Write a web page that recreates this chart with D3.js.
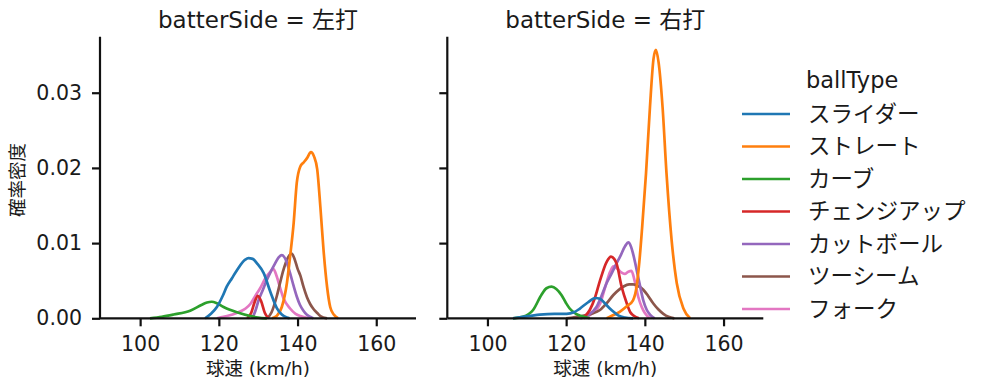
<!DOCTYPE html>
<html><head><meta charset="utf-8">
<script src="https://cdn.jsdelivr.net/npm/d3@7"></script>
<style>
body{margin:0;background:#fff;}
text{font-family:"DejaVu Sans","Noto Sans CJK JP",sans-serif;fill:#1a1a1a;}
</style></head>
<body><svg id="c" width="987" height="391"></svg>
<script>
// ---- data ----
const panels = ["左打", "右打"];
const ballTypes = ["スライダー","ストレート","カーブ","チェンジアップ","カットボール","ツーシーム","フォーク"];
const colors = ["#1f77b4","#ff7f0e","#2ca02c","#d62728","#9467bd","#8c564b","#e377c2"];
const xTicks = [100,120,140,160];
const yTicks = [0,0.01,0.02,0.03];
const yTickLabels = ["0.00","0.01","0.02","0.03"];

// [speed km/h, density]
const leftSlider = [[116.5,0],[118,0.0006],[119.5,0.0015],[121,0.0030],[122,0.0042],[123.3,0.0053],[124.6,0.0064],[126.7,0.0078],[127.5,0.0080],[128.6,0.0079],[129.7,0.0073],[131.4,0.0060],[133.1,0.0035],[134.7,0.0014],[136,0.0005],[137.3,0.0001],[138,0]];
const leftStraight = [[133.5,0],[134.7,0.0003],[136,0.0015],[137.3,0.0047],[138.1,0.0082],[139,0.0126],[139.8,0.0180],[140.7,0.0202],[141.5,0.0207],[142.4,0.0213],[143.4,0.0221],[144.2,0.0215],[145,0.0198],[145.8,0.0148],[146.6,0.0091],[147.5,0.0042],[148.3,0.0015],[149.2,0.0005],[150.3,0]];
const leftCurve = [[102.5,0],[105.5,0.0002],[108.5,0.0005],[112.7,0.0010],[115.7,0.0018],[117,0.0021],[118.2,0.0022],[119.5,0.0020],[121.2,0.0015],[124.6,0.0008],[128,0.0003],[130,0.0001],[132.2,0]];
const leftChange = [[127.2,0],[128.2,0.0007],[129,0.0020],[129.9,0.0030],[130.8,0.0022],[131.7,0.0007],[132.6,0]];
const leftCut = [[128.5,0],[129.3,0.0010],[130.1,0.0024],[131.2,0.0038],[132.2,0.0051],[133.2,0.0062],[134.3,0.0073],[135.2,0.0081],[136,0.0084],[137,0.0078],[138.1,0.0060],[139,0.0043],[139.8,0.0029],[140.6,0.0018],[141.5,0.0010],[142.3,0.0005],[143.2,0.0002],[144,0]];
const leftTwoSeam = [[132.3,0],[133.4,0.0008],[134.7,0.0029],[135.6,0.0048],[136.4,0.0064],[137.5,0.0080],[138.5,0.0086],[139.3,0.0078],[140,0.0066],[140.7,0.0057],[141.5,0.0042],[142.4,0.0028],[143.2,0.0019],[144.1,0.0012],[145,0.0007],[145.8,0.0003],[147.5,0]];
const leftFork = [[119.5,0],[121.2,0.0002],[123.5,0.0005],[125.4,0.0009],[126.8,0.0013],[128,0.0019],[129.3,0.0030],[130.5,0.0040],[131.8,0.0053],[133.1,0.0062],[133.8,0.0066],[134.7,0.0056],[135.6,0.0040],[136.4,0.0027],[138.1,0.0013],[139.5,0.0006],[140.7,0.0003],[142.8,0]];

const rightSlider = [[106.5,0],[109,0.0002],[113.3,0.0005],[117,0.0006],[120.1,0.0006],[122,0.0008],[123.5,0.0013],[125.5,0.0021],[127.4,0.0027],[128.6,0.0026],[130,0.0019],[131.1,0.0013],[132.2,0.0008],[133.2,0.0004],[135,0.0001],[137,0]];
const rightStraight = [[130.3,0],[131.5,0.0003],[133.7,0.0009],[135.4,0.0016],[137,0.0024],[137.9,0.0042],[138.6,0.0075],[139.3,0.0120],[140.3,0.0193],[141.3,0.0281],[142.2,0.0345],[142.8,0.0357],[143.5,0.0340],[144.5,0.0281],[145.5,0.0193],[146.8,0.0104],[148.1,0.0047],[149.8,0.0013],[151.5,0]];
const rightCurve = [[106.5,0],[109,0.0002],[111.6,0.0011],[113.7,0.0031],[115,0.0040],[116.3,0.0042],[117.5,0.0039],[118.8,0.0031],[120,0.0020],[120.9,0.0013],[122.5,0.0006],[123.9,0.0003],[126,0]];
const rightChange = [[123.8,0],[125,0.0004],[126,0.0011],[127.3,0.0027],[128.6,0.0050],[130.3,0.0075],[131.4,0.0082],[132.2,0.0079],[132.8,0.0073],[134.1,0.0042],[135.4,0.0020],[136.3,0.0008],[137,0.0004],[138.5,0]];
const rightCut = [[123.5,0],[125.5,0.0004],[127.7,0.0015],[129,0.0030],[130.3,0.0047],[131.6,0.0060],[132.8,0.0073],[133.7,0.0082],[135,0.0096],[135.8,0.0101],[136.5,0.0095],[137,0.0086],[138.3,0.0055],[139.6,0.0024],[140.5,0.0011],[141.3,0.0005],[142.5,0]];
const rightTwoSeam = [[120,0],[124,0.0003],[126.5,0.0006],[128.6,0.0011],[130.3,0.0020],[132,0.0031],[134.5,0.0042],[136,0.0045],[137,0.0045],[138.3,0.0043],[139.6,0.0038],[140.8,0.0030],[142.1,0.0020],[143.4,0.0012],[144.7,0.0006],[146,0.0002],[147.5,0]];
const rightFork = [[124.5,0],[126.5,0.0006],[128.6,0.0019],[130,0.0043],[131.2,0.0062],[132,0.0069],[133,0.0066],[134,0.0061],[134.9,0.0059],[135.8,0.0062],[136.6,0.0063],[137.4,0.0050],[138.3,0.0029],[139.2,0.0015],[140,0.0007],[141.3,0]];

const leftSeries = [leftSlider,leftStraight,leftCurve,leftChange,leftCut,leftTwoSeam,leftFork];
const rightSeries = [rightSlider,rightStraight,rightCurve,rightChange,rightCut,rightTwoSeam,rightFork];
const panelSeries = [leftSeries, rightSeries];

// ---- drawing ----
const FONT = '"DejaVu Sans","Noto Sans CJK JP",sans-serif';
const svg = d3.select("#c");
const plotTop = 36.7, plotBottom = 318.3;
const panelLefts = [100, 447.3], panelWidth = 316;
const y = d3.scaleLinear().domain([0, 0.03745]).range([plotBottom, plotTop]);

panels.forEach((p, pi) => {
  const x0 = panelLefts[pi];
  const x = d3.scaleLinear().domain([89.8, 170.1]).range([x0, x0 + panelWidth]);
  const g = svg.append("g");

  const line = d3.line().x(d => x(d[0])).y(d => y(d[1])).curve(d3.curveMonotoneX);
  const series = panelSeries[pi];
  // seaborn draws hue levels in reverse order
  for (let i = series.length - 1; i >= 0; i--) {
    g.append("path").datum(series[i]).attr("d", line)
      .attr("fill", "none").attr("stroke", colors[i]).attr("stroke-width", 2.7)
      .attr("stroke-linejoin", "round").attr("stroke-linecap", "butt");
  }

  const xa = g.append("g").attr("transform", `translate(0,${plotBottom})`)
    .call(d3.axisBottom(x).tickValues(xTicks).tickSize(8).tickPadding(10).tickFormat(d3.format("d")));
  const ya = g.append("g").attr("transform", `translate(${x0},0)`)
    .call(d3.axisLeft(y).tickValues(yTicks).tickSize(8).tickPadding(10)
      .tickFormat((d, i) => pi === 0 ? yTickLabels[i] : ""));
  [xa, ya].forEach(a => {
    a.select(".domain").attr("stroke", "#111").attr("stroke-width", 2.2);
    a.selectAll(".tick line").attr("stroke", "#111").attr("stroke-width", 2.2);
    a.selectAll(".tick text").attr("font-size", 20.5).attr("fill", "#1a1a1a")
      .style("font-family", FONT);
  });
  xa.select(".domain").attr("d", `M${x0},0H${x0 + panelWidth}`);
  ya.select(".domain").attr("d", `M0,${plotTop}V${plotBottom}`);

  g.append("text").attr("x", x0 + panelWidth / 2).attr("y", 28)
    .attr("text-anchor", "middle").attr("font-size", 23)
    .text(`batterSide = ${p}`);
  g.append("text").attr("x", x0 + panelWidth / 2).attr("y", 375)
    .attr("text-anchor", "middle").attr("font-size", 18.5)
    .text("球速 (km/h)");
});

svg.append("text").attr("transform", "translate(18,180) rotate(-90)")
  .attr("text-anchor", "middle").attr("dy", "0.35em").attr("font-size", 18.5).text("確率密度");

// legend
const lg = svg.append("g");
lg.append("text").attr("x", 806).attr("y", 88).attr("font-size", 22.5).text("ballType");
ballTypes.forEach((b, i) => {
  const yy = 114 + i * 32.5;
  lg.append("line").attr("x1", 742).attr("x2", 790).attr("y1", yy).attr("y2", yy)
    .attr("stroke", colors[i]).attr("stroke-width", 2.7);
  lg.append("text").attr("x", 808).attr("y", yy).attr("dy", "0.35em")
    .attr("font-size", 22.5).text(b);
});
</script>
</body></html>
